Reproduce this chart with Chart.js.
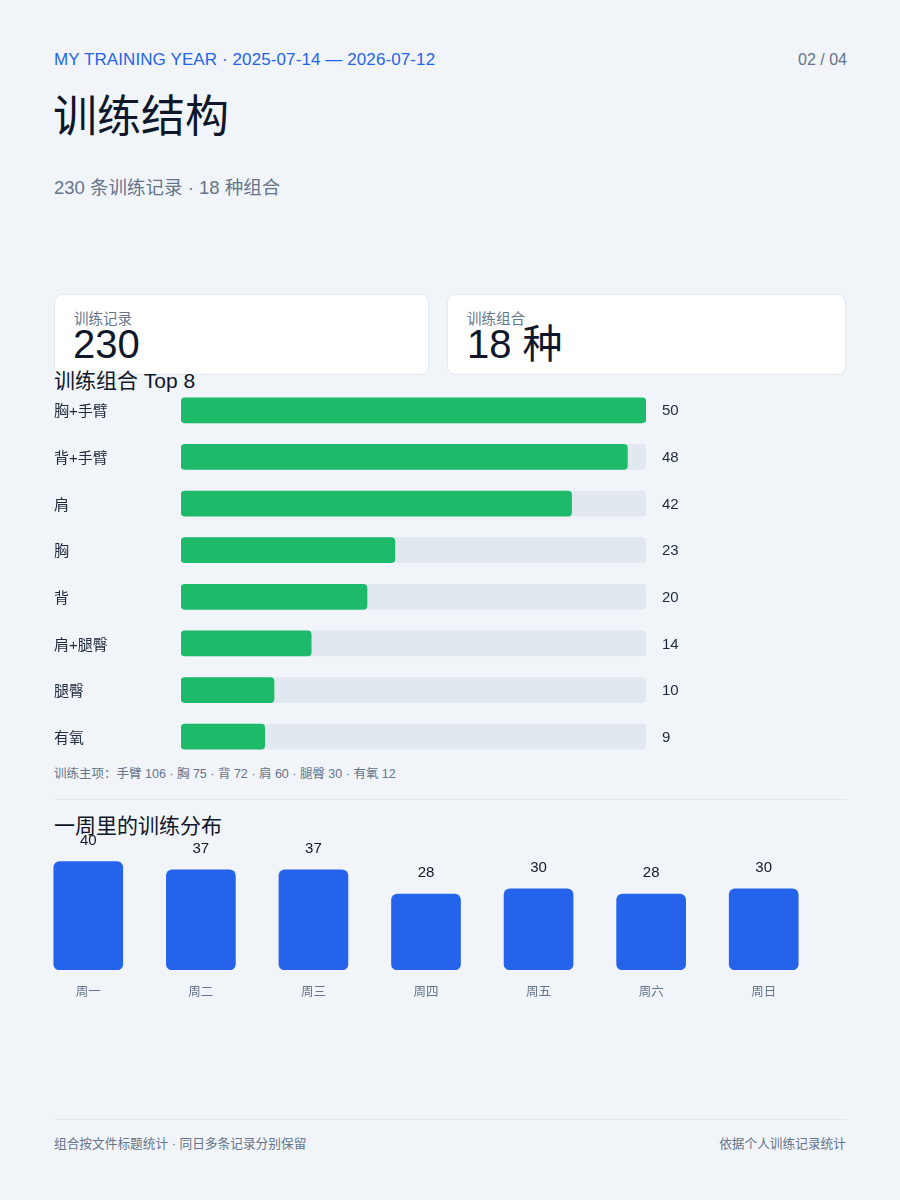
<!DOCTYPE html>
<html lang="zh-CN">
<head>
<meta charset="utf-8">
<script src="https://cdn.jsdelivr.net/npm/chart.js@4.4.1/dist/chart.umd.min.js"></script>
<style>
  html, body { margin: 0; padding: 0; }
  body {
    width: 900px; height: 1200px; position: relative; overflow: hidden;
    background: #f1f5f9;
    font-family: "Liberation Sans", "Noto Sans CJK SC", sans-serif;
    color: #0f172a;
  }
  .abs { position: absolute; white-space: nowrap; }
  .card { position: absolute; background: #fff; border: 1px solid #e2e8f0; border-radius: 8px; box-sizing: border-box; }
  .rule { position: absolute; left: 54px; width: 792px; height: 1px; background: #e2e8f0; }
  .box { position: absolute; }
</style>
</head>
<body>
<div class="abs" style="left:54px;top:50px;font-size:17px;letter-spacing:0.1px;line-height:20px;color:#2563eb;">MY TRAINING YEAR · 2025-07-14 — 2026-07-12</div>
<div class="abs" style="right:53px;top:50px;font-size:16px;line-height:20px;color:#64748b;">02 / 04</div>
<div class="abs" style="left:53px;top:91px;font-size:44px;line-height:52px;color:#0f172a;">训练结构</div>
<div class="abs" style="left:54px;top:176px;font-size:18.5px;line-height:24px;color:#64748b;">230 条训练记录 · 18 种组合</div>

<div class="card" style="left:54px;top:294px;width:375px;height:81px;"></div>
<div class="card" style="left:447px;top:294px;width:399px;height:81px;"></div>
<div class="abs" style="left:74px;top:310px;font-size:14.5px;line-height:18px;color:#64748b;">训练记录</div>
<div class="abs" style="left:73px;top:322px;font-size:40px;line-height:44px;color:#0f172a;">230</div>
<div class="abs" style="left:467px;top:310px;font-size:14.5px;line-height:18px;color:#64748b;">训练组合</div>
<div class="abs" style="left:467px;top:322px;font-size:40px;line-height:44px;color:#0f172a;">18 种</div>

<div class="abs" style="left:54px;top:369px;font-size:21px;line-height:24px;color:#0f172a;">训练组合 Top 8</div>
<div class="box" style="left:54px;top:387px;width:792px;height:373px;"><canvas id="topChart"></canvas></div>

<div class="abs" style="left:54px;top:766px;font-size:12.5px;line-height:16px;color:#64748b;">训练主项：手臂 106 · 胸 75 · 背 72 · 肩 60 · 腿臀 30 · 有氧 12</div>
<div class="rule" style="top:799px;"></div>
<div class="abs" style="left:54px;top:813px;font-size:21px;line-height:26px;color:#0f172a;">一周里的训练分布</div>
<div class="box" style="left:32px;top:820px;width:788px;height:185px;"><canvas id="weekChart"></canvas></div>

<div class="rule" style="top:1119px;"></div>
<div class="abs" style="left:54px;top:1136px;font-size:12.7px;line-height:16px;color:#64748b;">组合按文件标题统计 · 同日多条记录分别保留</div>
<div class="abs" style="right:54px;top:1136px;font-size:12.7px;line-height:16px;color:#64748b;">依据个人训练记录统计</div>

<script>
const comboLabels = ["胸+手臂", "背+手臂", "肩", "胸", "背", "肩+腿臀", "腿臀", "有氧"];
const comboCounts = [50, 48, 42, 23, 20, 14, 10, 9];
const comboMax = 50;
const weekLabels = ["周一", "周二", "周三", "周四", "周五", "周六", "周日"];
const weekCounts = [40, 37, 37, 28, 30, 28, 30];

const FONT = '"Liberation Sans", "Noto Sans CJK SC", sans-serif';
Chart.defaults.font.family = FONT;
Chart.defaults.animation = false;

const hValueLabels = {
  id: 'hValueLabels',
  afterDatasetsDraw(chart) {
    const ctx = chart.ctx;
    const meta = chart.getDatasetMeta(0);
    ctx.save();
    ctx.font = '15px ' + FONT;
    ctx.fillStyle = '#1e293b';
    ctx.textAlign = 'left';
    ctx.textBaseline = 'middle';
    meta.data.forEach((bar, i) => {
      ctx.fillText(String(chart.data.datasets[0].data[i]), chart.chartArea.right + 16, bar.y + 1);
    });
    ctx.restore();
  }
};

new Chart(document.getElementById('topChart'), {
  type: 'bar',
  data: {
    labels: comboLabels,
    datasets: [
      { data: comboCounts, backgroundColor: '#1dbb69', borderRadius: 4, borderSkipped: false, barThickness: 25, grouped: false, order: 0 },
      { data: comboLabels.map(() => comboMax), backgroundColor: '#e2e8f0', borderRadius: 4, borderSkipped: false, barThickness: 25, grouped: false, order: 1 }
    ]
  },
  options: {
    indexAxis: 'y',
    responsive: true,
    maintainAspectRatio: false,
    devicePixelRatio: 1,
    layout: { padding: { left: 0, right: 200, top: 0, bottom: 0 } },
    plugins: { legend: { display: false }, tooltip: { enabled: false } },
    scales: {
      x: { display: false, min: 0, max: comboMax },
      y: {
        grid: { display: false, drawTicks: false },
        border: { display: false },
        ticks: { color: '#1e293b', font: { size: 15 }, crossAlign: 'far', padding: 0, labelOffset: 2 },
        afterFit(scale) { scale.width = 127; scale.paddingTop = 0; scale.paddingBottom = 0; }
      }
    }
  },
  plugins: [hValueLabels]
});

const vValueLabels = {
  id: 'vValueLabels',
  afterDatasetsDraw(chart) {
    const ctx = chart.ctx;
    const meta = chart.getDatasetMeta(0);
    ctx.save();
    ctx.font = '15px ' + FONT;
    ctx.fillStyle = '#111827';
    ctx.textAlign = 'center';
    ctx.textBaseline = 'middle';
    meta.data.forEach((bar, i) => {
      ctx.fillText(String(chart.data.datasets[0].data[i]), bar.x, bar.y - 21);
    });
    ctx.restore();
  }
};

new Chart(document.getElementById('weekChart'), {
  type: 'bar',
  data: {
    labels: weekLabels,
    datasets: [
      { data: weekCounts, backgroundColor: '#2563eb', borderRadius: 6, borderSkipped: false, barThickness: 69 }
    ]
  },
  options: {
    responsive: true,
    maintainAspectRatio: false,
    devicePixelRatio: 1,
    layout: { padding: { top: 20, left: 0, right: 0, bottom: 0 } },
    plugins: { legend: { display: false }, tooltip: { enabled: false } },
    scales: {
      y: { display: false, min: 0, max: 48 },
      x: {
        grid: { display: false, drawTicks: false },
        border: { display: false },
        ticks: { color: '#64748b', font: { size: 12.5 }, padding: 15 },
        afterFit(scale) { scale.height = 35; }
      }
    }
  },
  plugins: [vValueLabels]
});
</script>
</body>
</html>
